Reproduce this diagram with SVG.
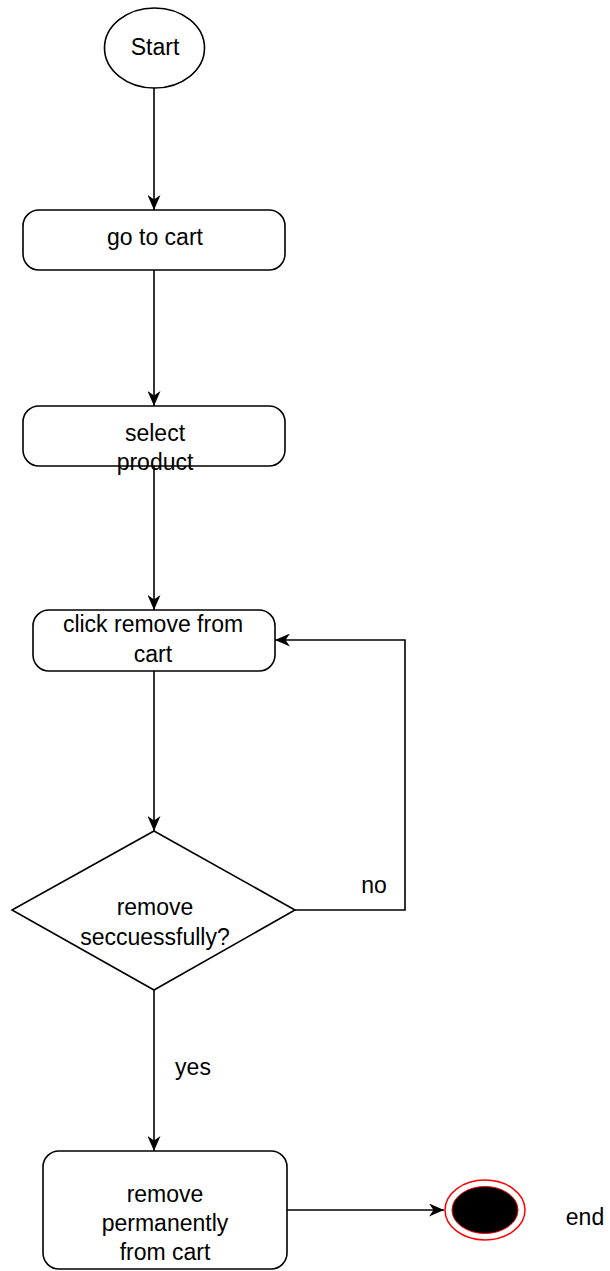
<svg xmlns="http://www.w3.org/2000/svg" width="610" height="1271" viewBox="0 0 610 1271">
<defs>
<style>
.n{fill:#fff;stroke:#000;stroke-width:1.6}
.t{font-family:"Liberation Sans",Arial,sans-serif;font-size:23px;fill:#000;text-anchor:middle}
.e{fill:none;stroke:#000;stroke-width:1.6;marker-end:url(#ah)}
</style>
<marker id="ah" viewBox="0 0 15 13" refX="15" refY="6.5" markerWidth="15" markerHeight="13" markerUnits="userSpaceOnUse" orient="auto">
<path d="M0,0 L15,6.5 L0,13 L4.5,6.5 Z" fill="#000"/>
</marker>
</defs>
<g id="edges">
<path class="e" d="M154,88 L154,210"/>
<path class="e" d="M154,270 L154,406"/>
<path class="e" d="M154,466 L154,610"/>
<path class="e" d="M154,671 L154,831"/>
<path class="e" d="M295,910 L405,910 L405,640 L275,640"/>
<path class="e" d="M154,990 L154,1151"/>
<path class="e" d="M287,1210 L444,1210"/>
<text class="t" x="374" y="893">no</text>
<text class="t" x="193" y="1075">yes</text>
</g>
<g id="start">
<ellipse class="n" cx="154.5" cy="48" rx="50" ry="40"/>
<text class="t" x="155" y="55">Start</text>
</g>
<g id="goToCart">
<rect class="n" x="23" y="210" width="262" height="60" rx="16"/>
<text class="t" x="155" y="245">go to cart</text>
</g>
<g id="selectProduct">
<rect class="n" x="23" y="406" width="262" height="60" rx="16"/>
<text class="t" x="155" y="441">select</text>
<text class="t" x="155" y="470">product</text>
</g>
<g id="clickRemove">
<rect class="n" x="33" y="610" width="242" height="61" rx="16"/>
<text class="t" x="153" y="632">click remove from</text>
<text class="t" x="153" y="662">cart</text>
</g>
<g id="decision">
<polygon class="n" points="154,831 295,910 154,990 12,910"/>
<text class="t" x="155" y="915">remove</text>
<text class="t" x="155" y="945">seccuessfully?</text>
</g>
<g id="removePermanently">
<rect class="n" x="43" y="1151" width="244" height="118" rx="16"/>
<text class="t" x="165" y="1202">remove</text>
<text class="t" x="165" y="1231">permanently</text>
<text class="t" x="165" y="1260">from cart</text>
</g>
<g id="end">
<ellipse cx="485" cy="1210" rx="40" ry="30" fill="#fff" stroke="#f00" stroke-width="1.5"/>
<ellipse cx="485" cy="1210" rx="33" ry="23.5" fill="#000" stroke="#e00" stroke-width="1"/>
<text class="t" x="585" y="1225">end</text>
</g>
</svg>
